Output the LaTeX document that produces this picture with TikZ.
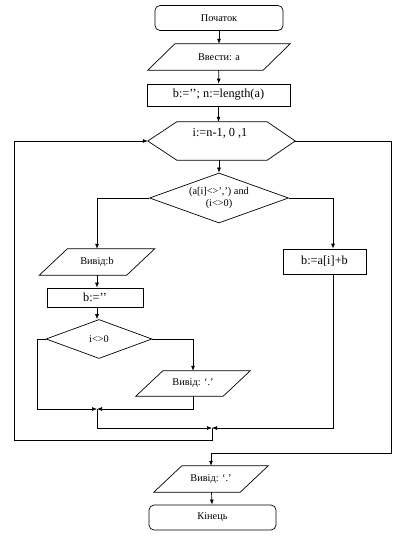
\documentclass[tikz,border=0pt]{standalone}
\usepackage{fontspec}
\setmainfont{Liberation Serif}
\usetikzlibrary{shapes.geometric,arrows.meta,calc}
\newcommand{\paranode}[6]{%
  \node[small,minimum width=#3,minimum height=#4] (#1) at #2 {#6};
  \draw[line] ([xshift=-#5/2]#1.south west) -- ([xshift=#5/2]#1.north west) -- ([xshift=#5/2]#1.north east) -- ([xshift=-#5/2]#1.south east) -- cycle;}
\tikzset{
  line/.style={draw=black,line width=0.7pt},
  small/.style={font=\fontsize{10.3}{11.5}\selectfont,inner sep=0pt},
  big/.style={font=\fontsize{12.3}{14}\selectfont,inner sep=0pt},
  term/.style={small,line,rounded corners=5pt},
  proc/.style={big,line},
  dec/.style={small,line,diamond,aspect=2.75,align=center},
  arr/.style={line,-{Latex[length=5pt,width=4pt]}},
  conn/.style={line}
}
\begin{document}
\begin{tikzpicture}[x=1pt,y=-1pt]
\useasboundingbox (0,0) rectangle (406,540);
% nodes
\node[term,minimum width=128,minimum height=25] (start) at (219,18) {Початок};
\paranode{in}{(219,57)}{115}{26}{27}{Ввести: a}
\node[proc,minimum width=143,minimum height=22] (init) at (218.5,95) {b:=’’; n:=length(a)};
\node[minimum width=147,minimum height=38,inner sep=0pt] (loop) at (221.5,141) {};
\draw[line] (loop.west) -- ([xshift=29]loop.north west) -- ([xshift=-28]loop.north east) -- (loop.east) -- ([xshift=-28]loop.south east) -- ([xshift=29]loop.south west) -- cycle;
\node[big] (looptxt) at (220,133) {i:=n-1, 0 ,1};
\node[dec,minimum width=139,minimum height=50] (cond) at (219,198) {(a[i]<>’,’) and\\(i<>0)};
\paranode{outb}{(97,262)}{87}{26}{28}{Вивід:b}
\node[proc,minimum width=96,minimum height=19] (clr) at (95,297.5) {b:=’’};
\node[dec,minimum width=106,minimum height=39] (cond2) at (99,339) {i<>0};
\paranode{outc}{(193,383.5)}{87}{25}{27}{Вивід: ‘.’};
\node[proc,minimum width=83,minimum height=25] (upd) at (324.5,261.5) {b:=a[i]+b};
\paranode{outd}{(211,479)}{86}{26}{28}{Вивід: ‘.’}
\node[term,minimum width=127,minimum height=25] (end) at (212.5,517.5) {Кінець};
% coordinates
\coordinate (j1) at (97,409);
\coordinate (j2) at (212,428);
\coordinate (lb) at (14,440);
\coordinate (ex) at (391,453);
% connectors
\draw[arr] (start) -- (in);
\draw[arr] (in) -- (init);
\draw[arr] (init.south) -- (init.south |- loop.north);
\draw[arr] (loop.south -| cond.north) -- (cond.north);
\draw[arr] (cond.west) -| (outb.north);
\draw[arr] (cond.east) -| ([xshift=8.5]upd.north);
\draw[arr] (outb.south) -- (outb.south |- clr.north);
\draw[arr] (outb.south |- clr.south) -- (outb.south |- cond2.north);
\draw[arr] (cond2.east) -| (outc.north);
\draw[arr] (cond2.west) -- ++(-8,0) |- (j1);
\draw[arr] (outc.south) |- (j1);
\draw[arr] (j1) |- (j2);
\draw[arr] ([xshift=8.5]upd.south) |- (j2);
\draw[arr] (j2) |- (lb) |- (loop.west);
\draw[arr] (loop.east) -| (ex) -| (outd.north);
\draw[arr] (outd) -- (end);
\end{tikzpicture}
\end{document}
